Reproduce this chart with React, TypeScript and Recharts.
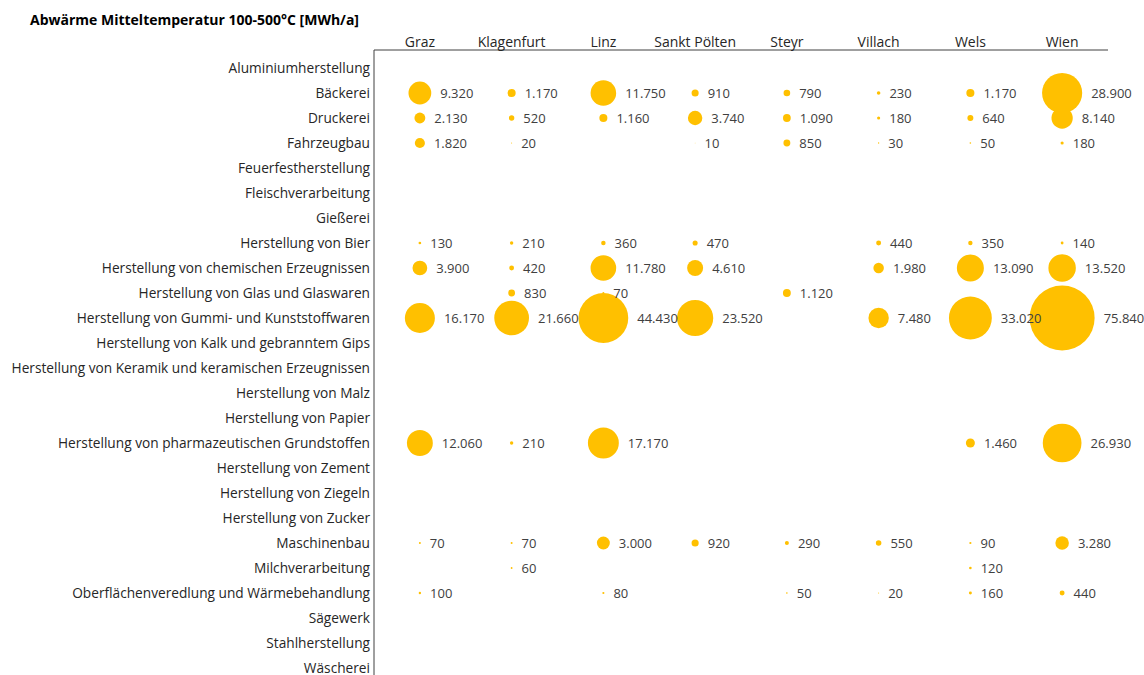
import React from "react";
import { ScatterChart, Scatter, XAxis, YAxis, ZAxis } from "recharts";

const title = "Abwärme Mitteltemperatur 100-500°C [MWh/a]";

const cities = ["Graz", "Klagenfurt", "Linz", "Sankt Pölten", "Steyr", "Villach", "Wels", "Wien"];

const categories = [
  "Aluminiumherstellung",
  "Bäckerei",
  "Druckerei",
  "Fahrzeugbau",
  "Feuerfestherstellung",
  "Fleischverarbeitung",
  "Gießerei",
  "Herstellung von Bier",
  "Herstellung von chemischen Erzeugnissen",
  "Herstellung von Glas und Glaswaren",
  "Herstellung von Gummi- und Kunststoffwaren",
  "Herstellung von Kalk und gebranntem Gips",
  "Herstellung von Keramik und keramischen Erzeugnissen",
  "Herstellung von Malz",
  "Herstellung von Papier",
  "Herstellung von pharmazeutischen Grundstoffen",
  "Herstellung von Zement",
  "Herstellung von Ziegeln",
  "Herstellung von Zucker",
  "Maschinenbau",
  "Milchverarbeitung",
  "Oberflächenveredlung und Wärmebehandlung",
  "Sägewerk",
  "Stahlherstellung",
  "Wäscherei",
];

const N = null;
// values per city, in the order of categories
const graz = [N, 9320, 2130, 1820, N, N, N, 130, 3900, N, 16170, N, N, N, N, 12060, N, N, N, 70, N, 100, N, N, N];
const klagenfurt = [N, 1170, 520, 20, N, N, N, 210, 420, 830, 21660, N, N, N, N, 210, N, N, N, 70, 60, N, N, N, N];
const linz = [N, 11750, 1160, N, N, N, N, 360, 11780, 70, 44430, N, N, N, N, 17170, N, N, N, 3000, N, 80, N, N, N];
const sanktPoelten = [N, 910, 3740, 10, N, N, N, 470, 4610, N, 23520, N, N, N, N, N, N, N, N, 920, N, N, N, N, N];
const steyr = [N, 790, 1090, 850, N, N, N, N, N, 1120, N, N, N, N, N, N, N, N, N, 290, N, 50, N, N, N];
const villach = [N, 230, 180, 30, N, N, N, 440, 1980, N, 7480, N, N, N, N, N, N, N, N, 550, N, 20, N, N, N];
const wels = [N, 1170, 640, 50, N, N, N, 350, 13090, N, 33020, N, N, N, N, 1460, N, N, N, 90, 120, 160, N, N, N];
const wien = [N, 28900, 8140, 180, N, N, N, 140, 13520, N, 75840, N, N, N, N, 26930, N, N, N, 3280, N, 440, N, N, N];

const seriesValues = [graz, klagenfurt, linz, sanktPoelten, steyr, villach, wels, wien];

const cityTicks = cities.map((_, i) => i);
const categoryTicks = categories.map((_, i) => i);

type Pt = { x: number; y: number; z: number };
const points: Pt[] = [];
seriesValues.forEach((arr, ci) => {
  arr.forEach((v, ri) => {
    if (v !== null && v !== undefined) points.push({ x: ci, y: ri, z: v as number });
  });
});

const maxValue = 75840;
const maxRadius = 32.5;
const maxArea = Math.PI * maxRadius * maxRadius;

function fmt(v: number): string {
  const s = String(Math.round(v));
  return s.replace(/\B(?=(\d{3})+(?!\d))/g, ".");
}

const FONT = "'Open Sans', sans-serif";

const LabelShape = (props: any) => {
  const { cx, cy, payload, size } = props;
  if (cx == null || cy == null) return null;
  const r = size != null ? Math.sqrt(size / Math.PI) : maxRadius * Math.sqrt(payload.z / maxValue);
  return (
    <text x={cx + r + 9} y={cy} dy="0.35em" fontSize={13} fill="#404040" fontFamily={FONT}>
      {fmt(payload.z)}
    </text>
  );
};

export default function App() {
  return (
    <div style={{ position: "absolute", left: 0, top: 0, width: 1144, height: 675, background: "#fff", overflow: "hidden" }}>
      <div
        style={{
          position: "absolute",
          left: 30,
          top: 10,
          fontFamily: FONT,
          fontWeight: 700,
          fontSize: 14,
          lineHeight: "19px",
          color: "#000",
          whiteSpace: "nowrap",
        }}
      >
        {title}
      </div>
      <ScatterChart width={1144} height={675} margin={{ top: 0, right: 36, bottom: 0, left: 0 }} style={{ overflow: "visible" }}>
        <XAxis
          type="number"
          dataKey="x"
          orientation="top"
          domain={[-0.5, 7.5]}
          ticks={cityTicks}
          interval={0}
          height={50}
          tickLine={false}
          tickSize={0}
          tickMargin={3}
          axisLine={{ stroke: "#404040", strokeWidth: 1 }}
          tickFormatter={(v: number) => cities[v] ?? ""}
          tick={{ fill: "#262626", fontSize: 14, fontFamily: FONT }}
        />
        <YAxis
          type="number"
          dataKey="y"
          domain={[-0.72, 24.28]}
          reversed
          ticks={categoryTicks}
          interval={0}
          width={374}
          tickLine={false}
          tickSize={0}
          tickMargin={4}
          axisLine={{ stroke: "#404040", strokeWidth: 1 }}
          tickFormatter={(v: number) => categories[v] ?? ""}
          tick={{ fill: "#262626", fontSize: 13.7, fontFamily: FONT }}
        />
        <ZAxis type="number" dataKey="z" domain={[0, maxValue]} range={[0, maxArea]} />
        <Scatter data={points} fill="#FFC000" shape="circle" isAnimationActive={false} />
        <Scatter data={points} shape={LabelShape} isAnimationActive={false} />
      </ScatterChart>
    </div>
  );
}
